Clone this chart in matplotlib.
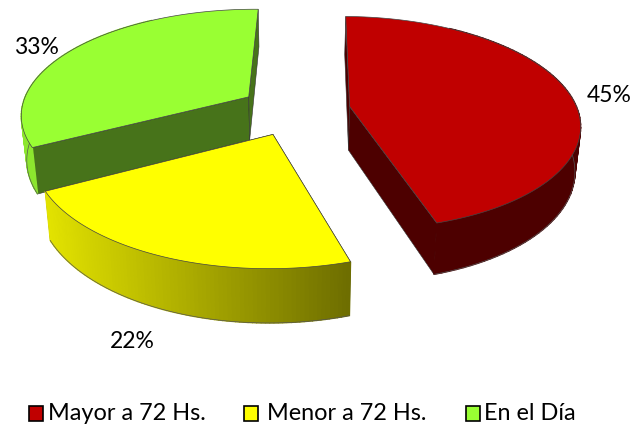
import numpy as np
import matplotlib
matplotlib.use('Agg')
import matplotlib.pyplot as plt
from matplotlib.patches import Polygon, Rectangle
from matplotlib.colors import to_rgb

# Data
categories = ['Mayor a 72 Hs.', 'Menor a 72 Hs.', 'En el Día']
values = [45, 22, 33]

top_colors = ['#c00000', '#ffff00', '#99ff33']
cut_colors = ['#4d0000', '#7a7a00', '#47731a']
rim_left = ['#4d0000', '#e2e200', '#8ce62e']
rim_right = ['#4d0000', '#6e6e00', '#8ce62e']

# Projection of the tilted pie, in pixels
x0, y0 = 295, 110
Rx, Ry = 228, 105
p = 0.155
explode = 0.243
depth = 44
shrink = 0.98
rotation = np.radians(1)


def project(X, Y):
    w = 1 + p * Y
    x = x0 + Rx * X / w
    y = y0 - Ry * Y / w
    xb = x0 + (x - x0) * shrink
    yb = y + depth / w
    return x, y, xb, yb


plt.rcParams['font.family'] = ['Lato', 'DejaVu Sans']
fig = plt.figure(figsize=(6.37, 4.26), dpi=100)
ax = fig.add_axes([0, 0, 1, 1])
ax.set_xlim(0, 637)
ax.set_ylim(426, 0)
ax.axis('off')

fractions = np.array(values) / sum(values)
edges = np.concatenate([[0], np.cumsum(fractions)]) * 2 * np.pi + rotation
order = [2, 1, 0]
z = 1
for i in order:
    a1, a2 = edges[i], edges[i + 1]
    mid = (a1 + a2) / 2
    ex, ey = explode * np.sin(mid), explode * np.cos(mid)
    th = np.linspace(a1, a2, 90)
    x, y, xb, yb = project(ex + np.sin(th), ey + np.cos(th))
    cx, cy, cxb, cyb = project(ex, ey)

    # cut faces go first, the rim and top hide what is not facing us
    for j in [0, -1]:
        ax.add_patch(Polygon([(cx, cy), (x[j], y[j]), (xb[j], yb[j]), (cxb, cyb)],
                             facecolor=cut_colors[i], edgecolor='#333333', lw=0.4, zorder=z))
    z += 1

    # outer rim, shaded left to right, back part is never seen
    c1, c2 = np.array(to_rgb(rim_left[i])), np.array(to_rgb(rim_right[i]))
    front = np.cos(th) < 0.85
    for k in range(len(th) - 1):
        if not front[k]:
            continue
        t = np.clip((x[k] - 48) / (350 - 48), 0, 1)
        col = c1 + (c2 - c1) * t
        ax.add_patch(Polygon([(x[k], y[k]), (x[k + 1], y[k + 1]), (xb[k + 1], yb[k + 1]), (xb[k], yb[k])],
                             facecolor=col, edgecolor=col, lw=1.0, zorder=z))
    z += 1
    ax.plot(xb[front], yb[front], color='#555555', lw=0.5, zorder=z)
    z += 1

    # top face
    pts = [(cx, cy)] + list(zip(x, y))
    ax.add_patch(Polygon(pts, facecolor=top_colors[i], edgecolor='#444444', lw=0.5, zorder=z))
    z += 1

# Data labels
label_pos = [(609, 95), (132, 341), (36, 47)]
for v, (lx, ly) in zip(values, label_pos):
    ax.text(lx, ly, f'{v}%', fontsize=16.5, color='black', ha='center', va='center', zorder=z)

# Legend
box_x = [29, 244, 466]
text_x = [48, 267, 484]
for name, col, bx, tx in zip(categories, top_colors, box_x, text_x):
    ax.add_patch(Rectangle((bx, 406), 14, 15, facecolor=col, edgecolor='black', lw=1.2, zorder=z))
    ax.text(tx, 413, name, fontsize=16.9, color='black', ha='left', va='center', zorder=z)

fig.savefig('out.png', dpi=100)
